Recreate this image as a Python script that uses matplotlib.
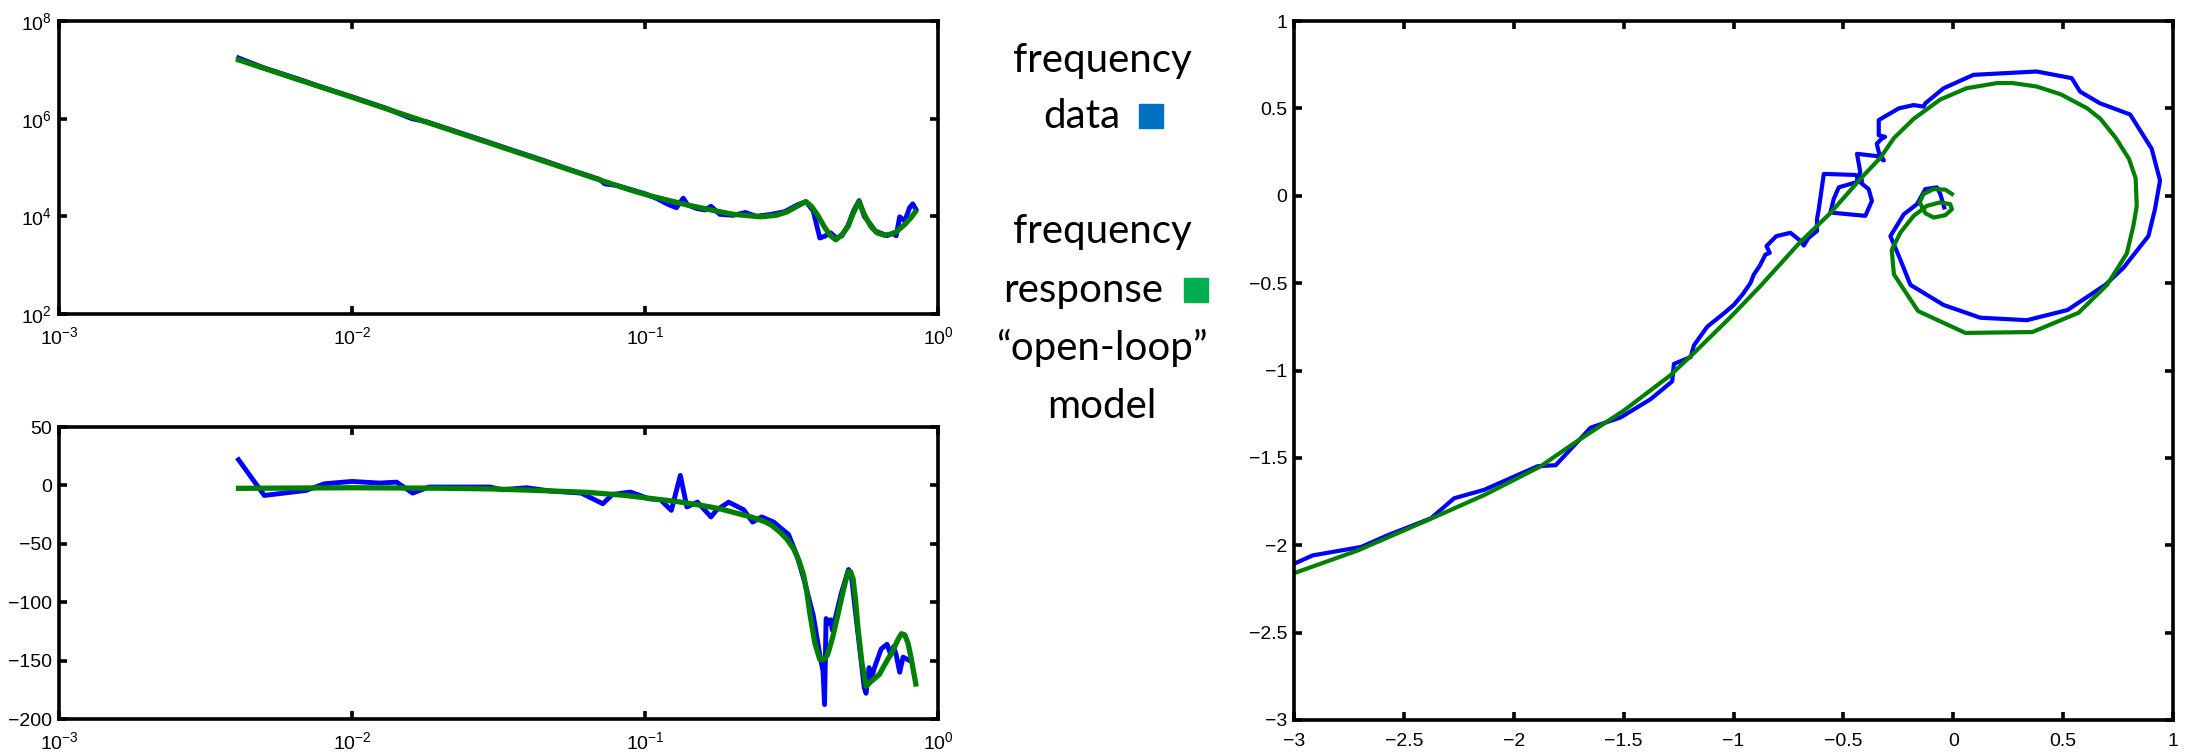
import matplotlib
matplotlib.use("Agg")
import matplotlib.pyplot as plt
from matplotlib import font_manager
from matplotlib.patches import Rectangle
from matplotlib.ticker import FixedLocator, FuncFormatter, NullLocator

# ---- data ----
# Bode magnitude (model, green)
mag_model_f = [0.0041, 0.006, 0.01, 0.016, 0.025, 0.04, 0.06, 0.0705, 0.09, 0.105, 0.119,
               0.14, 0.168, 0.2, 0.248, 0.28, 0.305, 0.33, 0.354, 0.37, 0.387, 0.41, 0.43,
               0.448, 0.47, 0.493, 0.515, 0.538, 0.56, 0.59, 0.62, 0.655, 0.69, 0.72, 0.77,
               0.81, 0.836]
mag_model = [1.6e7, 7.5e6, 2.75e6, 1.07e6, 4.4e5, 1.72e5, 7.6e4, 5.5e4, 3.4e4, 2.6e4, 2.16e4,
             1.7e4, 1.35e4, 1.1e4, 9.8e3, 1.05e4, 1.23e4, 1.6e4, 2.0e4, 1.6e4, 1.1e4, 6e3, 4e3,
             3.3e3, 4.2e3, 6.2e3, 1.2e4, 2.0e4, 1.1e4, 6.2e3, 4.6e3, 4.1e3, 4.3e3, 4.8e3, 6.8e3,
             9.5e3, 1.23e4]

# Bode magnitude (measured, blue)
mag_data_f = [0.0041, 0.005, 0.0065, 0.008, 0.01, 0.013, 0.016, 0.018, 0.022, 0.028, 0.035,
              0.045, 0.055, 0.065, 0.07, 0.073, 0.08, 0.09, 0.1, 0.11, 0.12, 0.128, 0.135,
              0.14, 0.15, 0.16, 0.168, 0.18, 0.2, 0.22, 0.24, 0.27, 0.3, 0.33, 0.354, 0.375,
              0.395, 0.41, 0.43, 0.45, 0.47, 0.493, 0.515, 0.538, 0.56, 0.59, 0.61, 0.64,
              0.67, 0.7, 0.72, 0.74, 0.77, 0.8, 0.82, 0.84]
mag_data = [1.75e7, 1.1e7, 6.6e6, 4.3e6, 2.8e6, 1.65e6, 1.0e6, 8.6e5, 5.8e5, 3.6e5, 2.3e5,
            1.4e5, 9.2e4, 6.6e4, 5.7e4, 4.6e4, 4.3e4, 3.5e4, 2.9e4, 2.3e4, 1.75e4, 1.5e4, 2.35e4,
            1.7e4, 1.45e4, 1.35e4, 1.6e4, 1.1e4, 1.05e4, 1.2e4, 1.0e4, 1.1e4, 1.25e4, 1.7e4,
            2.0e4, 1.3e4, 3.6e3, 3.9e3, 4.6e3, 3.6e3, 4.0e3, 6.5e3, 1.3e4, 2.1e4, 1.0e4, 6.7e3,
            5.0e3, 4.5e3, 4.0e3, 4.5e3, 4.0e3, 9.8e3, 8.0e3, 1.5e4, 1.8e4, 1.4e4]

# Bode phase (model, green)
ph_model_f = [0.0041, 0.006, 0.01, 0.02, 0.03, 0.045, 0.064, 0.085, 0.103, 0.13, 0.155, 0.18,
              0.207, 0.23, 0.256, 0.27, 0.289, 0.305, 0.321, 0.335, 0.348, 0.357, 0.366, 0.38,
              0.395, 0.408, 0.42, 0.437, 0.455, 0.475, 0.493, 0.503, 0.513, 0.523, 0.533, 0.55,
              0.569, 0.59, 0.63, 0.67, 0.70, 0.73, 0.75, 0.77, 0.79, 0.81, 0.84]
ph_model = [-2.5, -2.3, -2.0, -2.4, -3, -4.5, -6, -8.5, -11, -14, -17, -20, -24, -27, -31, -34,
            -40, -46, -54, -64, -77, -92, -111, -135, -149, -149, -145, -130, -111, -90, -74,
            -74, -80, -98, -122, -152, -172, -168, -162, -150, -142, -132, -127, -128, -135,
            -148, -170]

# Bode phase (measured, blue)
ph_data_f = [0.0041, 0.00502, 0.00697, 0.00805, 0.01, 0.0124, 0.0142, 0.0161, 0.0183, 0.0243,
             0.0296, 0.0325, 0.0394, 0.0475, 0.0606, 0.0718, 0.0775, 0.0893, 0.103, 0.113,
             0.123, 0.132, 0.139, 0.151, 0.168, 0.175, 0.193, 0.217, 0.233, 0.25, 0.275, 0.289,
             0.309, 0.33, 0.351, 0.375, 0.395, 0.405, 0.41, 0.415, 0.423, 0.43, 0.436, 0.468,
             0.495, 0.505, 0.527, 0.56, 0.568, 0.582, 0.59, 0.607, 0.64, 0.67, 0.69, 0.705,
             0.72, 0.74, 0.76, 0.80]
ph_data = [22, -8.6, -4.3, 1.4, 3.4, 2, 2.8, -6.6, -1.4, -1.4, -1.4, -3.7, -2, -4.8, -6.6,
           -15.7, -7.7, -5.7, -11.4, -12.3, -21.4, 8.6, -18.5, -14.3, -27, -21.4, -14.3, -20.8,
           -31.4, -27, -31.4, -36, -42, -60, -83, -111, -145, -159, -187.7, -114, -118, -115,
           -124, -92, -72, -75, -116, -173, -178, -156, -167, -156, -140, -136, -145, -138,
           -145, -160, -147, -150]

# Nyquist (model, green)
nyq_model_re = [-3.00, -2.71, -2.38, -2.13, -1.88, -1.73, -1.50, -1.29, -1.18, -1.01, -0.88,
                -0.70, -0.56, -0.42, -0.33, -0.27, -0.18, -0.06, 0.06, 0.20, 0.27, 0.38, 0.49,
                0.61, 0.67, 0.74, 0.80, 0.83, 0.835, 0.82, 0.79, 0.70, 0.57, 0.36, 0.055,
                -0.16, -0.27, -0.28, -0.24, -0.18, -0.12, -0.06, -0.014, -0.006, -0.036,
                -0.089, -0.127, -0.153, -0.135, -0.089, -0.036, -0.006]
nyq_model_im = [-2.16, -2.03, -1.85, -1.71, -1.55, -1.42, -1.23, -1.03, -0.90, -0.69, -0.52,
                -0.27, -0.10, 0.10, 0.22, 0.33, 0.44, 0.55, 0.615, 0.645, 0.645, 0.625, 0.58,
                0.50, 0.44, 0.33, 0.21, 0.10, -0.06, -0.17, -0.33, -0.51, -0.67, -0.78, -0.785,
                -0.66, -0.45, -0.31, -0.21, -0.115, -0.058, -0.038, -0.048, -0.077, -0.111,
                -0.125, -0.10, -0.038, 0.01, 0.038, 0.035, 0.01]

# Nyquist (measured, blue)
nyq_data_re = [-3.00, -2.915, -2.695, -2.574, -2.377, -2.271, -2.135, -1.892, -1.809, -1.65,
               -1.514, -1.377, -1.279, -1.271, -1.195, -1.18, -1.12, -1.044, -0.999, -0.96,
               -0.923, -0.908, -0.880, -0.855, -0.835, -0.85, -0.805, -0.741, -0.699, -0.68,
               -0.658, -0.62, -0.62, -0.612, -0.589, -0.445, -0.415, -0.521, -0.544, -0.559,
               -0.40, -0.37, -0.385, -0.438, -0.423, -0.438, -0.348, -0.316, -0.339, -0.348,
               -0.325, -0.31, -0.339, -0.339, -0.248, -0.18, -0.135, -0.127, -0.044, 0.092,
               0.380, 0.539, 0.577, 0.668, 0.805, 0.903, 0.941, 0.918, 0.888, 0.774, 0.692,
               0.52, 0.335, 0.123, -0.044, -0.195, -0.241, -0.286, -0.225, -0.165, -0.127,
               -0.074, -0.059, -0.041]
nyq_data_im = [-2.106, -2.058, -2.01, -1.943, -1.846, -1.731, -1.683, -1.548, -1.542, -1.327,
               -1.269, -1.164, -1.062, -0.962, -0.923, -0.856, -0.75, -0.673, -0.625, -0.567,
               -0.50, -0.452, -0.40, -0.337, -0.327, -0.288, -0.231, -0.212, -0.254, -0.285,
               -0.24, -0.202, -0.135, -0.077, 0.125, 0.119, 0.087, 0.048, -0.019, -0.096,
               -0.115, -0.029, 0.038, 0.092, 0.135, 0.240, 0.227, 0.202, 0.250, 0.298, 0.327,
               0.337, 0.346, 0.433, 0.500, 0.519, 0.510, 0.529, 0.615, 0.692, 0.711, 0.673,
               0.596, 0.529, 0.465, 0.269, 0.087, -0.077, -0.231, -0.413, -0.51, -0.654,
               -0.712, -0.698, -0.625, -0.51, -0.365, -0.231, -0.106, -0.048, 0.038, 0.048,
               0.010, -0.067]

W, H = 2188, 753
BLUE = "#0000ff"
GREEN = "#008000"

available = {f.name for f in font_manager.fontManager.ttflist}
tick_font = "Liberation Sans Narrow" if "Liberation Sans Narrow" in available else "Liberation Sans"
note_font = "Lato" if "Lato" in available else "DejaVu Sans"

plt.rcParams["font.family"] = [tick_font, "DejaVu Sans"]
plt.rcParams["mathtext.fontset"] = "custom"
plt.rcParams["mathtext.rm"] = tick_font
plt.rcParams["mathtext.it"] = tick_font
plt.rcParams["mathtext.default"] = "regular"


def box(left, top, right, bottom):
    # pixel box -> figure fraction rect
    return [left / W, 1 - bottom / H, (right - left) / W, (bottom - top) / H]


def style(ax):
    for s in ax.spines.values():
        s.set_linewidth(2.6)
    ax.tick_params(which="both", direction="in", top=True, right=True,
                   length=6, width=2.6, labelsize=14)
    ax.tick_params(axis="x", pad=9)
    ax.tick_params(axis="y", pad=5)
    ax.tick_params(which="minor", length=0)


fig = plt.figure(figsize=(W / 100, H / 100), dpi=100)

# magnitude
ax1 = fig.add_axes(box(59, 21, 938, 314))
ax1.loglog(mag_data_f, mag_data, color=BLUE, lw=3.5)
ax1.loglog(mag_model_f, mag_model, color=GREEN, lw=3.8)
ax1.set_xlim(1e-3, 1)
ax1.set_ylim(1e2, 1e8)
ax1.xaxis.set_major_locator(FixedLocator([1e-3, 1e-2, 1e-1, 1]))
ax1.yaxis.set_major_locator(FixedLocator([1e2, 1e4, 1e6, 1e8]))
ax1.xaxis.set_minor_locator(NullLocator())
ax1.yaxis.set_minor_locator(NullLocator())
style(ax1)

# phase
ax2 = fig.add_axes(box(59, 427, 938, 719))
ax2.semilogx(ph_data_f, ph_data, color=BLUE, lw=3.5)
ax2.semilogx(ph_model_f, ph_model, color=GREEN, lw=3.8)
ax2.set_xlim(1e-3, 1)
ax2.set_ylim(-200, 50)
ax2.xaxis.set_major_locator(FixedLocator([1e-3, 1e-2, 1e-1, 1]))
ax2.xaxis.set_minor_locator(NullLocator())
ax2.set_yticks([-200, -150, -100, -50, 0, 50])
style(ax2)

# nyquist
ax3 = fig.add_axes(box(1294, 21, 2173, 720))
ax3.plot(nyq_data_re, nyq_data_im, color=BLUE, lw=3.0)
ax3.plot(nyq_model_re, nyq_model_im, color=GREEN, lw=3.0)
ax3.set_xlim(-3, 1)
ax3.set_ylim(-3, 1)
ticks = [-3, -2.5, -2, -1.5, -1, -0.5, 0, 0.5, 1]
ax3.set_xticks(ticks)
ax3.set_yticks(ticks)
fmt = FuncFormatter(lambda v, p: ("%g" % v).replace("-", "\u2212"))
ax3.xaxis.set_major_formatter(fmt)
ax3.yaxis.set_major_formatter(fmt)
style(ax3)

# annotation text in the middle
cx = 1102 / W
fs = 29
fig.text(cx, 1 - 72 / H, "frequency", ha="center", va="baseline", fontsize=fs, family=note_font)
fig.text(1120 / W, 1 - 128 / H, "data", ha="right", va="baseline", fontsize=fs, family=note_font)
fig.text(cx, 1 - 243 / H, "frequency", ha="center", va="baseline", fontsize=fs, family=note_font)
fig.text(1163 / W, 1 - 302 / H, "response", ha="right", va="baseline", fontsize=fs, family=note_font)
fig.text(cx, 1 - 360 / H, "\u201copen-loop\u201d", ha="center", va="baseline", fontsize=fs,
         family=note_font)
fig.text(cx, 1 - 418 / H, "model", ha="center", va="baseline", fontsize=fs, family=note_font)
fig.add_artist(Rectangle((1139 / W, 1 - 128 / H), 24 / W, 24 / H, transform=fig.transFigure,
                         color="#0070C0"))
fig.add_artist(Rectangle((1184 / W, 1 - 302 / H), 24 / W, 24 / H, transform=fig.transFigure,
                         color="#00B050"))

fig.savefig("out.png", dpi=100)
